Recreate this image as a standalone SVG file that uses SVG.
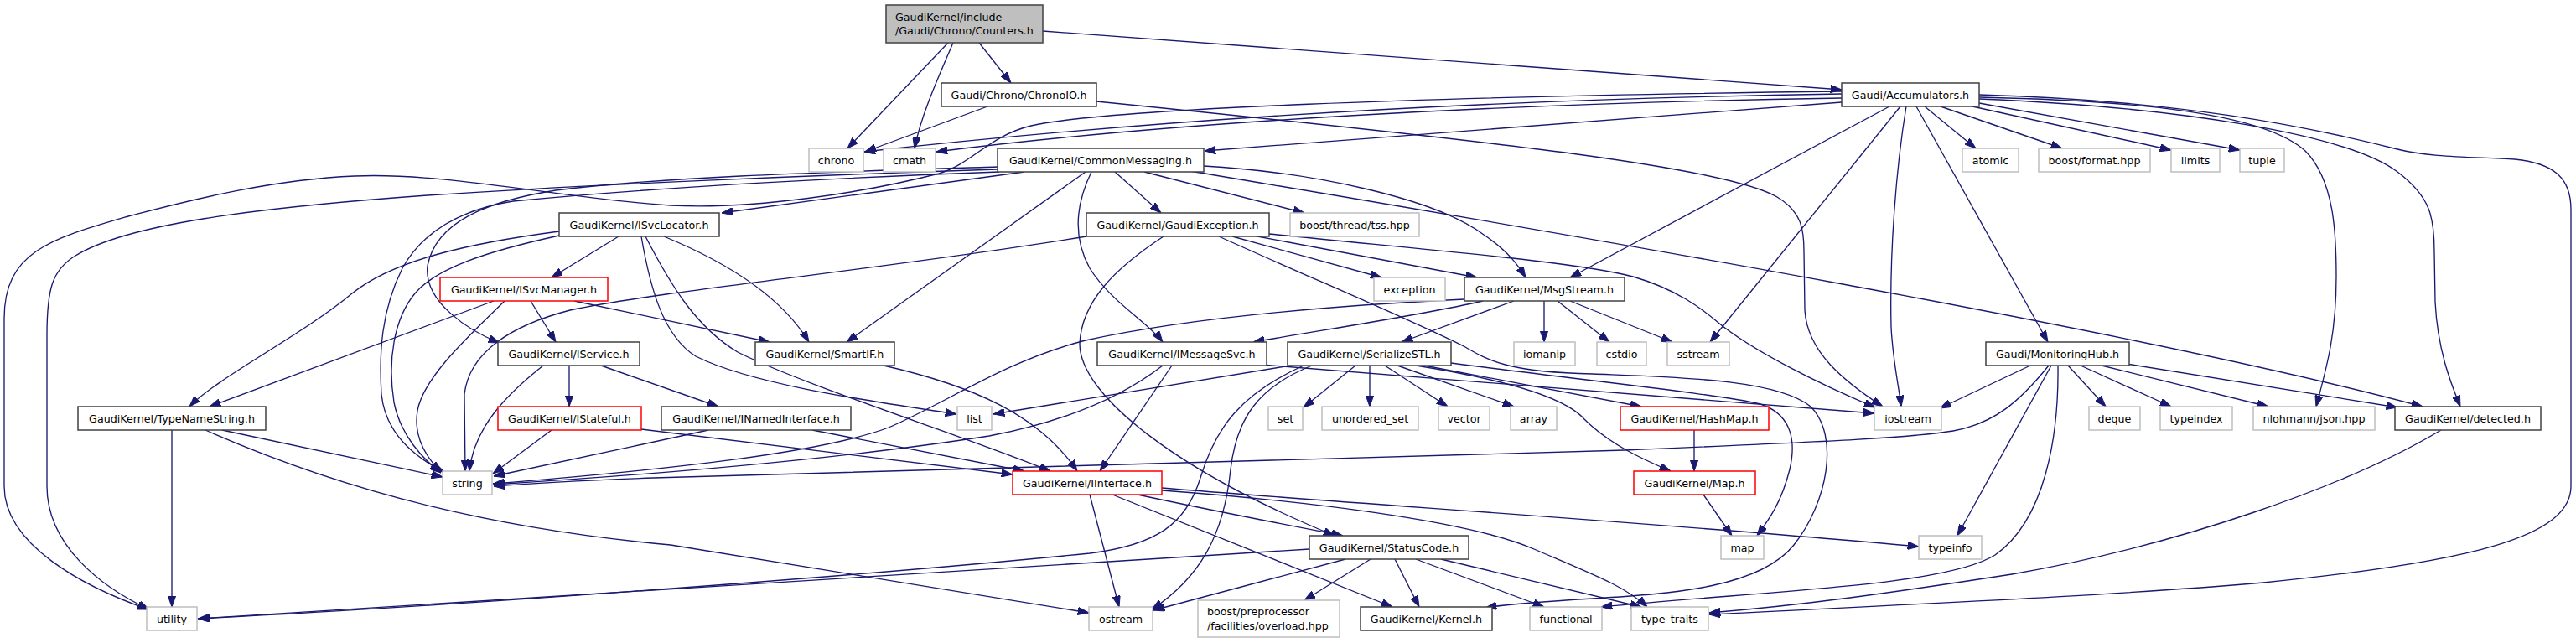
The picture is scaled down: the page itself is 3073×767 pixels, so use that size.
<svg xmlns="http://www.w3.org/2000/svg" width="3073" height="767" viewBox="0 0 3073 767">
<style>
.e path{fill:none;stroke:#191970;stroke-width:1.33;marker-end:url(#a)}
.n rect{fill:#fff;stroke:#404040;stroke-width:1.5}
.n.x rect{stroke:#bfbfbf}
.n.r rect{stroke:#ff0000}
.n.t rect{fill:#bfbfbf}
text{font-family:"DejaVu Sans","Liberation Sans",sans-serif;font-size:12.7px;text-anchor:middle;fill:#000}
text.l{text-anchor:start}
</style>
<defs>
<marker id="a" viewBox="0 0 13.3 9.4" refX="13.3" refY="4.7" markerWidth="13.3" markerHeight="9.4" markerUnits="userSpaceOnUse" orient="auto"><path d="M0,0 L13.3,4.7 L0,9.4 z" fill="#191970" stroke="#191970" stroke-width="1"/></marker>
</defs>
<rect x="0" y="0" width="3073" height="767" fill="#fff"/>
<g id="edges" class="e">
<path d="M1131,51 L1011,177"/>
<path d="M1137,51 C1118,95 1098,140 1091,177"/>
<path d="M1168,51 L1206,99"/>
<path d="M1244,37 L2197,107"/>
<path d="M1178,127 L1032,181"/>
<path d="M1308,121 C1800,170 2060,200 2120,235 C2150,253 2152,275 2152,300 L2153,370 C2156,420 2200,455 2246,485"/>
<path d="M2197,112 C1800,118 1400,140 1031,181"/>
<path d="M2197,117 C1800,123 1400,145 1117,181"/>
<path d="M2197,122 L1437,180"/>
<path d="M2197,109 C1700,115 1320,130 1230,150 C1180,162 1160,195 1120,207 C1030,230 900,250 800,245 C680,238 530,205 423,210 C330,214 240,235 153,258 C60,285 5,300 5,380 L5,580 C5,650 100,700 177,727"/>
<path d="M2254,127 L1873,331"/>
<path d="M2267,127 L2040,408"/>
<path d="M2274,127 C2262,200 2254,300 2256,390 C2258,430 2265,460 2268,485"/>
<path d="M2286,127 L2443,408"/>
<path d="M2296,127 L2357,177"/>
<path d="M2315,127 L2460,177"/>
<path d="M2353,127 L2590,179"/>
<path d="M2361,123 L2672,179"/>
<path d="M2361,116 C2550,120 2700,135 2750,180 C2785,215 2787,280 2787,330 C2787,400 2775,440 2763,485"/>
<path d="M2361,118 C2600,128 2800,160 2860,205 C2900,235 2904,260 2904,300 L2905,360 C2908,420 2925,460 2935,485"/>
<path d="M2361,113 C2600,120 2750,150 2860,178 C2900,188 2950,187 3000,190 C3050,195 3067,215 3067,250 L3067,580 C3067,640 2950,670 2700,695 C2500,712 2250,722 2039,733"/>
<path d="M1222,205 L861,254"/>
<path d="M1190,199 C1000,205 800,210 663,227 C580,240 520,265 510,317 C505,360 560,395 596,409"/>
<path d="M1190,202 C1000,208 700,220 510,233 C300,248 150,268 90,305 C62,322 56,345 56,400 L56,580 C56,650 120,700 178,727"/>
<path d="M1192,205 C1000,212 800,222 612,240 C550,250 505,275 480,320 C455,370 452,420 455,470 C460,520 500,548 530,563"/>
<path d="M1295,205 L1010,408"/>
<path d="M1330,205 L1385,254"/>
<path d="M1302,205 C1285,240 1278,280 1300,320 C1325,360 1370,385 1387,408"/>
<path d="M1365,205 L1556,254"/>
<path d="M1436,198 C1560,205 1710,235 1770,280 C1800,300 1812,318 1820,331"/>
<path d="M1420,204 C1600,235 2500,380 2890,485"/>
<path d="M1296,282 C1050,322 800,345 680,370 C610,388 560,420 554,470 L555,562"/>
<path d="M1388,282 C1330,320 1290,360 1288,410 C1288,470 1400,560 1592,639"/>
<path d="M1470,282 L1648,331"/>
<path d="M1500,282 L1762,331"/>
<path d="M1514,279 C1700,298 1880,312 1948,330 C2000,345 2030,368 2050,385 C2090,418 2170,458 2237,486"/>
<path d="M1454,282 C1560,330 1685,382 1748,414 C1775,430 1800,444 1900,446 C2000,450 2120,452 2160,485 C2195,520 2180,600 2140,650 C2100,700 2000,708 1900,714 C1850,717 1800,720 1772,725"/>
<path d="M1769,359 C1700,375 1600,390 1495,408"/>
<path d="M1806,359 L1672,408"/>
<path d="M1842,359 L1842,408"/>
<path d="M1858,359 L1920,408"/>
<path d="M1873,359 L1995,408"/>
<path d="M1747,357 C1560,366 1400,383 1295,406 C1200,430 1130,480 1060,510 C980,540 800,560 588,577"/>
<path d="M738,282 L658,331"/>
<path d="M667,276 C560,290 470,310 420,350 C360,400 260,450 226,485"/>
<path d="M667,281 C580,300 520,320 495,350 C470,380 462,430 470,480 C478,520 505,548 526,564"/>
<path d="M792,282 C860,310 930,350 965,408"/>
<path d="M765,282 C775,340 790,400 830,425 C900,460 1050,480 1141,494"/>
<path d="M770,282 C800,340 830,390 880,420 C960,460 1150,520 1253,562"/>
<path d="M633,359 L663,408"/>
<path d="M685,359 L918,408"/>
<path d="M589,359 L250,485"/>
<path d="M602,359 C560,400 505,450 498,490 C493,520 508,545 526,563"/>
<path d="M648,436 C605,470 565,510 560,562"/>
<path d="M679,436 L679,485"/>
<path d="M717,436 L857,485"/>
<path d="M658,513 L588,565"/>
<path d="M765,512 L1208,566"/>
<path d="M845,513 C760,532 660,552 589,568"/>
<path d="M969,513 L1222,562"/>
<path d="M1054,436 C1160,460 1240,495 1285,562"/>
<path d="M1398,436 L1312,562"/>
<path d="M1387,436 C1330,480 1260,505 1180,520 C1000,548 780,566 589,578"/>
<path d="M1505,435 L2236,493"/>
<path d="M1540,436 L1185,494"/>
<path d="M1617,436 L1555,486"/>
<path d="M1634,436 L1634,485"/>
<path d="M1652,436 L1727,485"/>
<path d="M1667,436 L1806,485"/>
<path d="M1699,436 L1958,485"/>
<path d="M1689,436 C1790,452 1865,472 1890,500 C1920,530 1960,548 1993,562"/>
<path d="M1731,433 C1900,455 2050,470 2100,482 C2140,495 2142,530 2135,560 C2125,600 2110,620 2096,639"/>
<path d="M1565,436 C1500,462 1475,500 1468,560 C1460,640 1430,690 1374,727"/>
<path d="M1555,436 C1480,470 1450,510 1432,570 C1415,625 1380,650 1300,660 C1000,690 500,725 237,738"/>
<path d="M265,513 L528,569"/>
<path d="M205,513 L205,724"/>
<path d="M245,513 C420,590 600,632 800,650 L1299,731"/>
<path d="M1562,655 L236,738"/>
<path d="M1605,667 L1376,728"/>
<path d="M1635,667 L1556,716"/>
<path d="M1664,667 L1693,724"/>
<path d="M1689,667 L1842,724"/>
<path d="M1719,667 L1958,724"/>
<path d="M1300,590 L1335,724"/>
<path d="M1357,590 C1450,610 1540,627 1602,639"/>
<path d="M1327,590 L1661,724"/>
<path d="M1386,582 C1600,600 2000,625 2289,652"/>
<path d="M1386,585 C1550,597 1750,620 1830,655 C1900,685 1940,700 1965,724"/>
<path d="M2021,513 L2021,562"/>
<path d="M2032,590 L2066,639"/>
<path d="M2422,436 L2314,487"/>
<path d="M2444,436 C2410,478 2380,505 2330,514 C2280,522 2200,526 1938,537 L780,570 C700,573 640,576 589,580"/>
<path d="M2447,436 L2335,639"/>
<path d="M2455,436 C2456,520 2440,620 2380,662 C2320,700 2100,705 1910,724"/>
<path d="M2467,436 L2512,485"/>
<path d="M2482,436 L2590,485"/>
<path d="M2507,436 L2706,485"/>
<path d="M2537,434 L2860,486"/>
<path d="M2912,513 C2800,580 2600,650 2400,685 C2250,708 2150,722 2039,731"/>
</g>
<g id="node-counters" class="n t"><rect x="1057" y="6" width="187" height="45"/><text class="l" x="1068" y="24.7">GaudiKernel/include</text><text class="l" x="1068" y="41.3">/Gaudi/Chrono/Counters.h</text></g>
<g id="node-chrono" class="n x"><rect x="965" y="177" width="65" height="28"/><text x="997.5" y="195.6">chrono</text></g>
<g id="node-cmath" class="n x"><rect x="1054" y="177" width="62" height="28"/><text x="1085" y="195.6">cmath</text></g>
<g id="node-chronoio" class="n"><rect x="1123" y="99" width="185" height="28"/><text x="1215.5" y="117.6">Gaudi/Chrono/ChronoIO.h</text></g>
<g id="node-accumulators" class="n"><rect x="2197" y="99" width="164" height="28"/><text x="2279" y="117.6">Gaudi/Accumulators.h</text></g>
<g id="node-iostream" class="n x"><rect x="2236" y="485" width="80" height="28"/><text x="2276" y="503.6">iostream</text></g>
<g id="node-commonmessaging" class="n"><rect x="1190" y="177" width="246" height="28"/><text x="1313" y="195.6">GaudiKernel/CommonMessaging.h</text></g>
<g id="node-atomic" class="n x"><rect x="2341" y="177" width="67" height="28"/><text x="2374.5" y="195.6">atomic</text></g>
<g id="node-boostformat" class="n x"><rect x="2432" y="177" width="133" height="28"/><text x="2498.5" y="195.6">boost/format.hpp</text></g>
<g id="node-limits" class="n x"><rect x="2590" y="177" width="58" height="28"/><text x="2619" y="195.6">limits</text></g>
<g id="node-tuple" class="n x"><rect x="2672" y="177" width="53" height="28"/><text x="2698.5" y="195.6">tuple</text></g>
<g id="node-isvclocator" class="n"><rect x="667" y="254" width="191" height="28"/><text x="762.5" y="272.6">GaudiKernel/ISvcLocator.h</text></g>
<g id="node-tss" class="n x"><rect x="1539" y="254" width="154" height="28"/><text x="1616" y="272.6">boost/thread/tss.hpp</text></g>
<g id="node-gaudiexception" class="n"><rect x="1296" y="254" width="218" height="28"/><text x="1405" y="272.6">GaudiKernel/GaudiException.h</text></g>
<g id="node-msgstream" class="n"><rect x="1747" y="331" width="191" height="28"/><text x="1842.5" y="349.6">GaudiKernel/MsgStream.h</text></g>
<g id="node-exception" class="n x"><rect x="1639" y="331" width="85" height="28"/><text x="1681.5" y="349.6">exception</text></g>
<g id="node-sstream" class="n x"><rect x="1989" y="408" width="74" height="28"/><text x="2026" y="426.6">sstream</text></g>
<g id="node-iomanip" class="n x"><rect x="1806" y="408" width="73" height="28"/><text x="1842.5" y="426.6">iomanip</text></g>
<g id="node-cstdio" class="n x"><rect x="1905" y="408" width="59" height="28"/><text x="1934.5" y="426.6">cstdio</text></g>
<g id="node-isvcmanager" class="n r"><rect x="525" y="331" width="200" height="28"/><text x="625" y="349.6">GaudiKernel/ISvcManager.h</text></g>
<g id="node-smartif" class="n"><rect x="901" y="408" width="166" height="28"/><text x="984" y="426.6">GaudiKernel/SmartIF.h</text></g>
<g id="node-iservice" class="n"><rect x="594" y="408" width="169" height="28"/><text x="678.5" y="426.6">GaudiKernel/IService.h</text></g>
<g id="node-imessagesvc" class="n"><rect x="1309" y="408" width="202" height="28"/><text x="1410" y="426.6">GaudiKernel/IMessageSvc.h</text></g>
<g id="node-serializestl" class="n"><rect x="1536" y="408" width="195" height="28"/><text x="1633.5" y="426.6">GaudiKernel/SerializeSTL.h</text></g>
<g id="node-monitoringhub" class="n"><rect x="2369" y="408" width="171" height="28"/><text x="2454.5" y="426.6">Gaudi/MonitoringHub.h</text></g>
<g id="node-typenamestring" class="n"><rect x="93" y="485" width="224" height="28"/><text x="205" y="503.6">GaudiKernel/TypeNameString.h</text></g>
<g id="node-istateful" class="n r"><rect x="594" y="485" width="171" height="28"/><text x="679.5" y="503.6">GaudiKernel/IStateful.h</text></g>
<g id="node-inamedinterface" class="n"><rect x="789" y="485" width="226" height="28"/><text x="902" y="503.6">GaudiKernel/INamedInterface.h</text></g>
<g id="node-list" class="n x"><rect x="1142" y="485" width="41" height="28"/><text x="1162.5" y="503.6">list</text></g>
<g id="node-set" class="n x"><rect x="1513" y="485" width="41" height="28"/><text x="1533.5" y="503.6">set</text></g>
<g id="node-unordered_set" class="n x"><rect x="1577" y="485" width="115" height="28"/><text x="1634.5" y="503.6">unordered_set</text></g>
<g id="node-vector" class="n x"><rect x="1716" y="485" width="61" height="28"/><text x="1746.5" y="503.6">vector</text></g>
<g id="node-array" class="n x"><rect x="1802" y="485" width="55" height="28"/><text x="1829.5" y="503.6">array</text></g>
<g id="node-hashmap" class="n r"><rect x="1933" y="485" width="177" height="28"/><text x="2021.5" y="503.6">GaudiKernel/HashMap.h</text></g>
<g id="node-deque" class="n x"><rect x="2492" y="485" width="61" height="28"/><text x="2522.5" y="503.6">deque</text></g>
<g id="node-typeindex" class="n x"><rect x="2577" y="485" width="86" height="28"/><text x="2620" y="503.6">typeindex</text></g>
<g id="node-json" class="n x"><rect x="2688" y="485" width="145" height="28"/><text x="2760.5" y="503.6">nlohmann/json.hpp</text></g>
<g id="node-detected" class="n"><rect x="2857" y="485" width="174" height="28"/><text x="2944" y="503.6">GaudiKernel/detected.h</text></g>
<g id="node-string" class="n x"><rect x="528" y="562" width="59" height="28"/><text x="557.5" y="580.6">string</text></g>
<g id="node-iinterface" class="n r"><rect x="1208" y="562" width="178" height="28"/><text x="1297" y="580.6">GaudiKernel/IInterface.h</text></g>
<g id="node-maph" class="n r"><rect x="1949" y="562" width="145" height="28"/><text x="2021.5" y="580.6">GaudiKernel/Map.h</text></g>
<g id="node-map" class="n x"><rect x="2053" y="639" width="51" height="28"/><text x="2078.5" y="657.6">map</text></g>
<g id="node-typeinfo" class="n x"><rect x="2289" y="639" width="75" height="28"/><text x="2326.5" y="657.6">typeinfo</text></g>
<g id="node-statuscode" class="n"><rect x="1562" y="639" width="190" height="28"/><text x="1657" y="657.6">GaudiKernel/StatusCode.h</text></g>
<g id="node-utility" class="n x"><rect x="175" y="724" width="60" height="28"/><text x="205" y="742.6">utility</text></g>
<g id="node-ostream" class="n x"><rect x="1299" y="724" width="76" height="28"/><text x="1337" y="742.6">ostream</text></g>
<g id="node-overload" class="n x"><rect x="1429" y="716" width="169" height="44"/><text class="l" x="1440" y="734.2">boost/preprocessor</text><text class="l" x="1440" y="750.8">/facilities/overload.hpp</text></g>
<g id="node-kernel" class="n"><rect x="1623" y="724" width="157" height="28"/><text x="1701.5" y="742.6">GaudiKernel/Kernel.h</text></g>
<g id="node-functional" class="n x"><rect x="1825" y="724" width="86" height="28"/><text x="1868" y="742.6">functional</text></g>
<g id="node-type_traits" class="n x"><rect x="1946" y="724" width="92" height="28"/><text x="1992" y="742.6">type_traits</text></g>
</svg>
